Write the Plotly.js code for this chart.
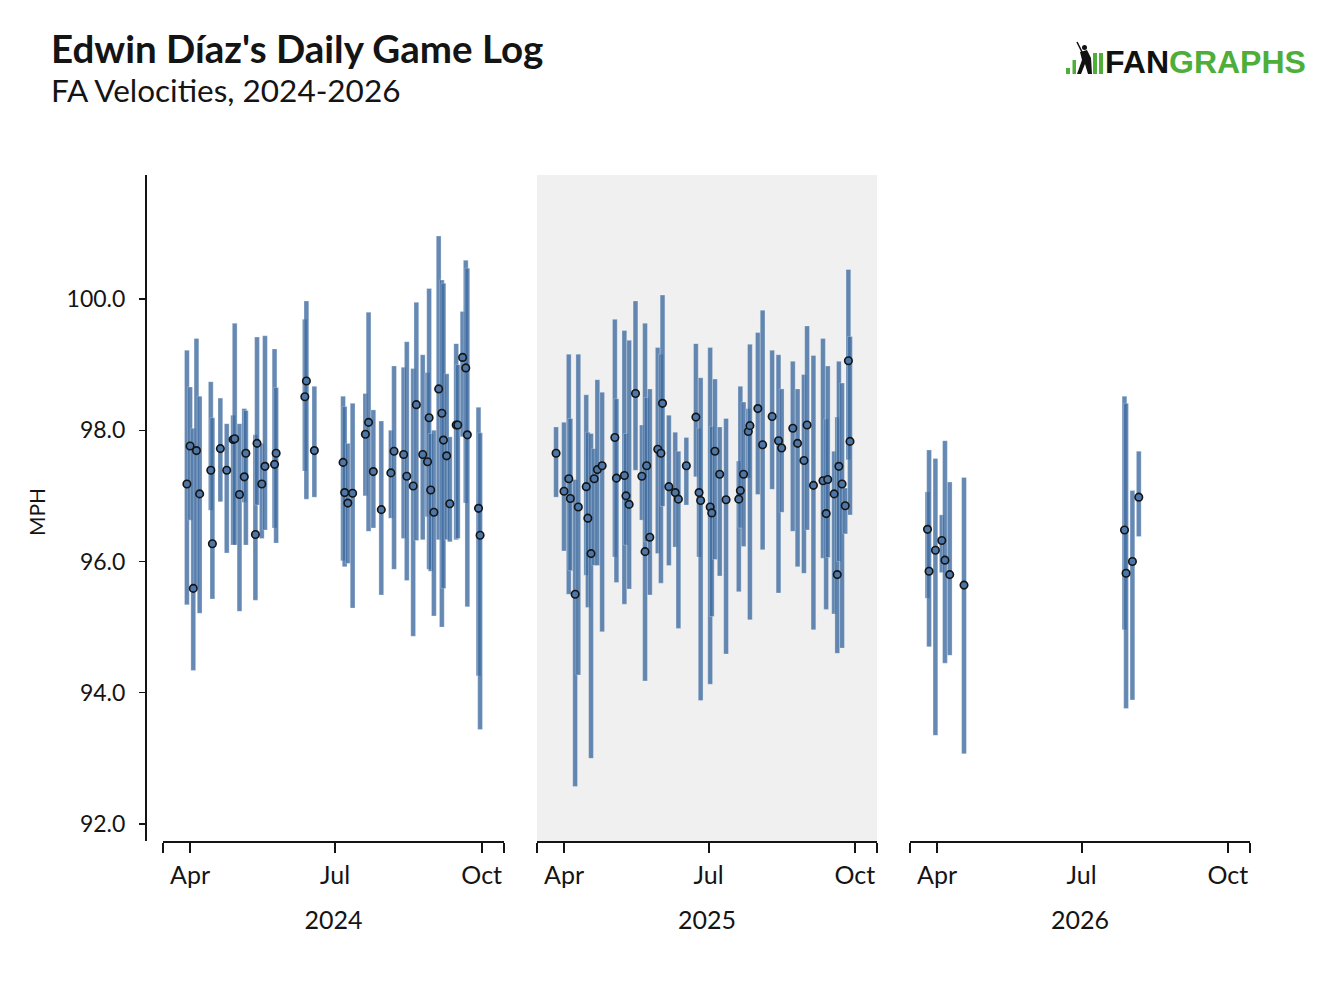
<!DOCTYPE html>
<html>
<head>
<meta charset="utf-8">
<script src="https://cdn.plot.ly/plotly-3.0.1.min.js"></script>
<style>
  html, body { margin: 0; padding: 0; background: #fff; }
  #chart { width: 1332px; height: 988px; }
</style>
</head>
<body>
<div id="chart"></div>
<script>
// Daily FA velocity per game: low, high and average, one set per season
var dates2024 = ['2024-03-30','2024-04-01','2024-04-03','2024-04-05','2024-04-07','2024-04-14','2024-04-15','2024-04-20','2024-04-24','2024-04-28','2024-04-29','2024-05-02','2024-05-05','2024-05-06','2024-05-12','2024-05-13','2024-05-16','2024-05-18','2024-05-24','2024-05-25',
  '2024-06-12','2024-06-13','2024-06-18','2024-07-06','2024-07-07','2024-07-09','2024-07-12','2024-07-20','2024-07-22','2024-07-25','2024-07-30','2024-08-05',
  '2024-08-07','2024-08-13','2024-08-15','2024-08-19','2024-08-21','2024-08-25','2024-08-28','2024-08-29','2024-08-30','2024-09-01','2024-09-04','2024-09-06','2024-09-07','2024-09-09','2024-09-11','2024-09-15','2024-09-16','2024-09-19','2024-09-21','2024-09-22','2024-09-29','2024-09-30']
var lo2024 = [95.34,96.63,94.34,95.6,95.21,96.78,95.43,96.91,96.13,96.25,96.25,95.24,96.9,96.25,95.41,96.86,96.35,96.48,96.51,96.28,
  97.38,96.95,96.98,96.01,95.92,95.97,95.29,97.0,96.46,96.51,95.49,96.66,
  95.88,96.35,95.71,94.86,96.32,96.33,96.68,95.88,95.85,95.17,96.33,95.0,95.59,96.33,96.3,96.33,96.35,97.9,96.89,95.31,94.26,93.44]
var hi2024 = [99.22,98.66,98.03,99.4,98.52,98.74,98.19,98.49,98.1,98.23,99.63,98.1,98.33,98.3,97.93,99.42,97.8,99.44,99.24,98.65,
  99.69,99.97,98.67,98.52,98.36,97.8,98.41,98.56,99.8,98.31,98.14,98.0,
  98.98,98.96,99.35,98.94,99.95,99.15,98.88,100.16,97.95,98.0,100.96,100.29,100.24,98.86,97.9,99.32,99.0,99.81,100.59,100.47,98.35,97.96]
var avg2024 = [97.18,97.76,95.59,97.69,97.03,97.39,96.27,97.72,97.39,97.86,97.87,97.02,97.29,97.65,96.41,97.8,97.18,97.45,97.48,97.65,
  98.51,98.75,97.69,97.51,97.05,96.89,97.04,97.94,98.12,97.37,96.79,97.35,
  97.68,97.63,97.3,97.15,98.39,97.63,97.52,98.19,97.09,96.75,98.63,98.26,97.85,97.61,96.88,98.08,98.08,99.11,98.95,97.93,96.81,96.4]

var dates2025 = ['2025-03-27','2025-04-01','2025-04-04','2025-04-05','2025-04-08','2025-04-10','2025-04-15','2025-04-16','2025-04-18','2025-04-20','2025-04-22','2025-04-25','2025-05-03','2025-05-04','2025-05-09','2025-05-10','2025-05-12','2025-05-16','2025-05-20','2025-05-22','2025-05-23','2025-05-25',
  '2025-05-30','2025-06-01','2025-06-02','2025-06-06','2025-06-10','2025-06-12','2025-06-17','2025-06-23','2025-06-25','2025-06-26','2025-07-02','2025-07-03','2025-07-05','2025-07-08','2025-07-12','2025-07-20','2025-07-21','2025-07-23',
  '2025-07-26','2025-07-27','2025-08-01','2025-08-04','2025-08-10','2025-08-14','2025-08-16','2025-08-23','2025-08-26','2025-08-30','2025-09-01','2025-09-05','2025-09-11','2025-09-13','2025-09-14','2025-09-18','2025-09-20','2025-09-21','2025-09-23','2025-09-25','2025-09-27','2025-09-28']
var lo2025 = [96.98,96.16,95.5,95.86,92.57,94.27,95.79,95.3,93.0,95.94,95.94,94.93,96.07,95.68,95.35,96.25,95.58,97.39,96.63,94.18,96.3,95.49,
  96.12,95.67,96.84,95.94,96.22,94.98,96.86,97.29,96.07,93.88,94.13,95.16,96.03,95.78,94.59,95.54,96.51,96.23,
  97.27,95.11,97.02,96.18,97.1,95.52,96.75,96.46,95.92,95.82,96.48,94.96,96.05,95.27,96.06,95.2,94.6,96.0,94.68,96.42,97.55,96.71]
var hi2025 = [98.05,98.12,99.16,98.18,97.25,99.16,98.54,97.97,97.95,97.72,98.77,98.58,99.69,98.48,99.52,97.95,99.37,99.97,98.08,99.63,98.5,98.63,
  99.26,99.16,100.06,98.23,97.97,97.68,97.89,99.32,98.03,98.8,99.26,98.06,98.78,98.05,98.18,97.53,98.67,98.43,
  98.33,99.31,99.49,99.83,99.22,99.15,98.63,99.05,98.63,98.85,99.59,99.14,99.4,98.17,98.98,97.68,98.2,99.05,98.72,97.12,100.45,99.43]
var avg2025 = [97.65,97.07,97.26,96.96,95.5,96.83,97.14,96.66,96.12,97.26,97.4,97.46,97.89,97.27,97.31,97.0,96.87,98.56,97.3,96.15,97.46,96.37,
  97.71,97.65,98.41,97.14,97.05,96.95,97.46,98.2,97.05,96.93,96.83,96.74,97.68,97.33,96.94,96.95,97.08,97.33,
  97.98,98.07,98.33,97.78,98.21,97.84,97.73,98.03,97.8,97.54,98.08,97.16,97.23,96.73,97.25,97.03,95.8,97.45,97.18,96.85,99.06,97.83]

var dates2026 = ['2026-03-26','2026-03-27','2026-03-31','2026-04-04','2026-04-06','2026-04-09','2026-04-18','2026-07-28','2026-07-29','2026-08-02','2026-08-06']
var lo2026 = [95.44,94.7,93.35,95.83,94.45,94.57,93.07,94.96,93.76,93.89,96.38]
var hi2026 = [97.06,97.7,97.57,96.71,97.84,97.21,97.28,98.52,98.41,97.08,97.68]
var avg2026 = [96.49,95.85,96.17,96.32,96.02,95.8,95.64,96.48,95.82,96.0,96.98]

var seasons = ['2024', '2025', '2026']
var month_labels = ['', 'Apr', 'Jul', 'Oct', '']
var y_ticks = [92, 94, 96, 98, 100]

// plot box in page pixels, used to place axes and decorations
var L = 146, R = 1250, T = 175, B = 841
function px(x) { return (x - L) / (R - L) }
function py(y) { return (B - y) / (B - T) }

var bar_color = 'rgba(62,108,160,0.8)'
var dot_color = 'rgb(78,118,166)'
var ink = '#141414'
var bar_width = 3 * 24 * 3600 * 1000   // 3 days, in ms

function range_trace(dates, lo, hi, xa) {
  return {
    type : 'bar', x : dates, base : lo,
    y : hi.map((h, i) => h - lo[i]),
    width : bar_width, xaxis : xa, yaxis : 'y',
    marker : {color : bar_color, line : {color : 'rgba(255,255,255,0.45)', width : 0.6}},
    hoverinfo : 'skip', showlegend : false
  }
}

function avg_trace(dates, avg, xa) {
  return {
    type : 'scatter', mode : 'markers', x : dates, y : avg,
    xaxis : xa, yaxis : 'y',
    marker : {size : 7.5, color : dot_color, line : {color : ink, width : 1.6}},
    hoverinfo : 'skip', showlegend : false
  }
}

var data = [
  range_trace(dates2024, lo2024, hi2024, 'x'),
  range_trace(dates2025, lo2025, hi2025, 'x2'),
  range_trace(dates2026, lo2026, hi2026, 'x3'),
  avg_trace(dates2024, avg2024, 'x'),
  avg_trace(dates2025, avg2025, 'x2'),
  avg_trace(dates2026, avg2026, 'x3')
]

var tick_font = {family : 'Lato, sans-serif', size : 25, color : ink}

function season_axis(year, domain) {
  return {
    type : 'date', domain : domain, anchor : 'y',
    range : [year + '-03-15', year + '-10-15'],
    tickmode : 'array',
    tickvals : [year + '-03-15', year + '-04-01', year + '-07-01', year + '-10-01', year + '-10-15'],
    ticktext : month_labels,
    ticks : 'outside', ticklen : 10, tickwidth : 2, tickcolor : ink,
    showline : true, linewidth : 2, linecolor : ink,
    showgrid : false, zeroline : false,
    tickfont : tick_font, ticklabelstandoff : 1,
    title : {text : year, font : tick_font, standoff : 23},
    fixedrange : true
  }
}

var layout = {
  width : 1332, height : 988,
  margin : {l : L, r : 1332 - R, t : T, b : 988 - B},
  paper_bgcolor : '#ffffff', plot_bgcolor : 'rgba(0,0,0,0)',
  barmode : 'overlay', bargap : 0,
  font : {family : 'Lato, sans-serif', color : ink},
  xaxis : season_axis(seasons[0], [px(163), px(504)]),
  xaxis2 : season_axis(seasons[1], [px(537), px(877)]),
  xaxis3 : season_axis(seasons[2], [px(910), px(1250)]),
  yaxis : {
    domain : [0, 1], anchor : 'free', position : 0,
    range : [91.74, 101.89],
    tickmode : 'array', tickvals : y_ticks, ticktext : y_ticks.map(v => v.toFixed(1)),
    ticks : 'outside', ticklen : 6, tickwidth : 1.5, tickcolor : ink,
    showline : true, linewidth : 2, linecolor : ink,
    showgrid : false, zeroline : false,
    tickfont : {family : 'Lato, sans-serif', size : 23, color : ink},
    ticklabelstandoff : 9,
    fixedrange : true
  },
  shapes : [
    // 2025 panel shading
    {type : 'rect', xref : 'x2 domain', yref : 'paper', x0 : 0, x1 : 1, y0 : 0, y1 : 1,
     fillcolor : '#f0f0f0', line : {width : 0}, layer : 'below'},
    // logo bars
    {type : 'rect', xref : 'paper', yref : 'paper', x0 : px(1066), x1 : px(1070), y0 : py(74), y1 : py(68),
     fillcolor : '#4fae3a', line : {width : 0}},
    {type : 'rect', xref : 'paper', yref : 'paper', x0 : px(1072.5), x1 : px(1076), y0 : py(74), y1 : py(60),
     fillcolor : '#4fae3a', line : {width : 0}},
    {type : 'rect', xref : 'paper', yref : 'paper', x0 : px(1093), x1 : px(1097), y0 : py(74), y1 : py(53),
     fillcolor : '#4fae3a', line : {width : 0}},
    {type : 'rect', xref : 'paper', yref : 'paper', x0 : px(1099), x1 : px(1103), y0 : py(74), y1 : py(53),
     fillcolor : '#4fae3a', line : {width : 0}},
    // batter silhouette, rough
    {type : 'path', xref : 'paper', yref : 'paper',
     path : 'M ' + px(1080) + ' ' + py(52) + ' L ' + px(1087) + ' ' + py(50) + ' L ' + px(1091) + ' ' + py(58) +
            ' L ' + px(1092) + ' ' + py(74) + ' L ' + px(1088) + ' ' + py(74) + ' L ' + px(1085) + ' ' + py(64) +
            ' L ' + px(1081) + ' ' + py(74) + ' L ' + px(1077) + ' ' + py(74) + ' L ' + px(1082) + ' ' + py(60) + ' Z',
     fillcolor : '#111', line : {width : 0}},
    {type : 'circle', xref : 'paper', yref : 'paper', x0 : px(1082), x1 : px(1087), y0 : py(50), y1 : py(45),
     fillcolor : '#111', line : {width : 0}},
    {type : 'line', xref : 'paper', yref : 'paper', x0 : px(1077), x1 : px(1083), y0 : py(42), y1 : py(54),
     line : {color : '#111', width : 1.5}}
  ],
  annotations : [
    {xref : 'paper', yref : 'paper', x : px(49), y : py(48), xanchor : 'left', yanchor : 'middle',
     text : "<b>Edwin Díaz's Daily Game Log</b>", showarrow : false,
     font : {family : 'Lato, sans-serif', size : 38.5, color : ink}},
    {xref : 'paper', yref : 'paper', x : px(49), y : py(90), xanchor : 'left', yanchor : 'middle',
     text : 'FA Velocities, 2024-2026', showarrow : false,
     font : {family : 'Lato, sans-serif', size : 31.5, color : ink}},
    {xref : 'paper', yref : 'paper', x : px(36), y : py(512), xanchor : 'center', yanchor : 'middle',
     text : 'MPH', textangle : -90, showarrow : false,
     font : {family : 'Lato, sans-serif', size : 21, color : ink}},
    {xref : 'paper', yref : 'paper', x : px(1103), y : py(62), xanchor : 'left', yanchor : 'middle',
     text : '<b><span style="color:#111">FAN</span><span style="color:#4fae3a">GRAPHS</span></b>',
     showarrow : false,
     font : {family : 'Liberation Sans, Arial, sans-serif', size : 32}}
  ]
}

Plotly.newPlot('chart', data, layout, {displayModeBar : false, staticPlot : true})
</script>
</body>
</html>
